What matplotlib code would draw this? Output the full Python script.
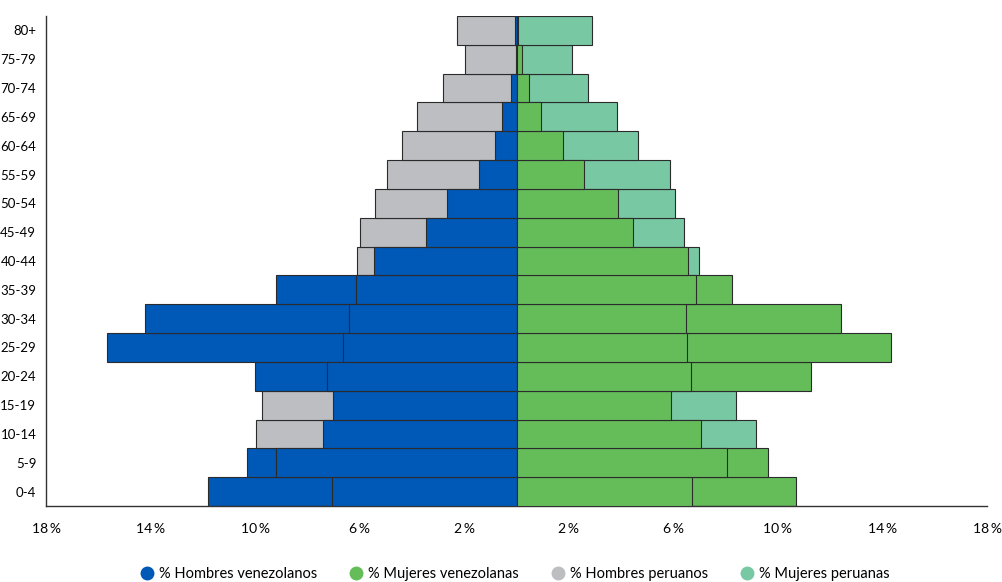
import numpy as np
import matplotlib
matplotlib.use("Agg")
import matplotlib.pyplot as plt
from matplotlib.lines import Line2D

plt.rcParams['font.family'] = ['Lato', 'DejaVu Sans']

# grupos de edad (de abajo hacia arriba)
grupos = ['0-4', '5-9', '10-14', '15-19', '20-24', '25-29', '30-34', '35-39',
          '40-44', '45-49', '50-54', '55-59', '60-64', '65-69', '70-74', '75-79', '80+']

hombres_ven = [11.80, 10.33, 7.41, 7.01, 9.99, 15.65, 14.21, 9.21, 5.46, 3.46,
               2.66, 1.43, 0.82, 0.55, 0.21, 0.03, 0.05]
hombres_per = [7.07, 9.21, 9.95, 9.75, 7.27, 6.64, 6.40, 6.13, 6.11, 5.99,
               5.42, 4.96, 4.38, 3.79, 2.81, 1.97, 2.28]
mujeres_ven = [10.71, 9.62, 7.05, 5.92, 11.26, 14.31, 12.41, 8.24, 6.57, 4.44,
               3.89, 2.57, 1.76, 0.94, 0.48, 0.19, 0.05]
mujeres_per = [6.70, 8.07, 9.16, 8.40, 6.67, 6.51, 6.47, 6.88, 6.97, 6.42,
               6.08, 5.87, 4.64, 3.83, 2.74, 2.13, 2.87]

ticks_x = [-18, -14, -10, -6, -2, 2, 6, 10, 14, 18]

azul = '#0058B7'
verde = '#65BD5A'
gris = '#BDBEC1'
turquesa = '#79C8A4'
borde = '#2b2b2b'

fig = plt.figure(figsize=(10.03, 5.82), dpi=100)
ax = fig.add_axes([0.0459, 0.1306, 0.9382, 0.8419])

y = np.arange(len(grupos))


# dibuja el lado (hombres o mujeres): la barra mayor detras, la menor encima
def dibujaLado(ven, per, col_ven, col_per, signo):
    ven = np.array(ven)
    per = np.array(per)
    mayor = np.maximum(ven, per)
    menor = np.minimum(ven, per)
    colores = [col_ven if v >= p else col_per for v, p in zip(ven, per)]
    ax.barh(y, signo * mayor, height=1.0, color=colores, edgecolor=borde,
            linewidth=0.8, zorder=2)
    ax.barh(y, signo * menor, height=1.0, color=col_ven, edgecolor=borde,
            linewidth=0.8, zorder=3)


dibujaLado(hombres_ven, hombres_per, azul, gris, -1)
dibujaLado(mujeres_ven, mujeres_per, verde, turquesa, 1)

ax.set_xlim(-18, 18)
ax.set_ylim(-0.5, len(grupos) - 0.5)
ax.set_yticks(y)
ax.set_yticklabels(grupos, fontsize=9.5)
ax.set_xticks(ticks_x)
ax.set_xticklabels([f"{abs(t)}\u2009%" for t in ticks_x], fontsize=10)
ax.tick_params(axis='y', length=0, pad=7)
ax.tick_params(axis='x', length=0, pad=12)

for lado in ['top', 'right']:
    ax.spines[lado].set_visible(False)
for lado in ['left', 'bottom']:
    ax.spines[lado].set_color('#333333')
    ax.spines[lado].set_linewidth(1.0)

etiquetas = ['% Hombres venezolanos', '% Mujeres venezolanas',
             '% Hombres peruanos', '% Mujeres peruanas']
colores_ley = [azul, verde, gris, turquesa]
handles = [Line2D([], [], marker='o', linestyle='', markersize=9,
                  markerfacecolor=c, markeredgecolor=c) for c in colores_ley]
fig.legend(handles, etiquetas, loc='center', bbox_to_anchor=(0.513, 0.0137),
           ncol=4, frameon=False, fontsize=10.5, handletextpad=0.3,
           columnspacing=2.2, handlelength=1.0)

fig.savefig("out.png", dpi=100)
